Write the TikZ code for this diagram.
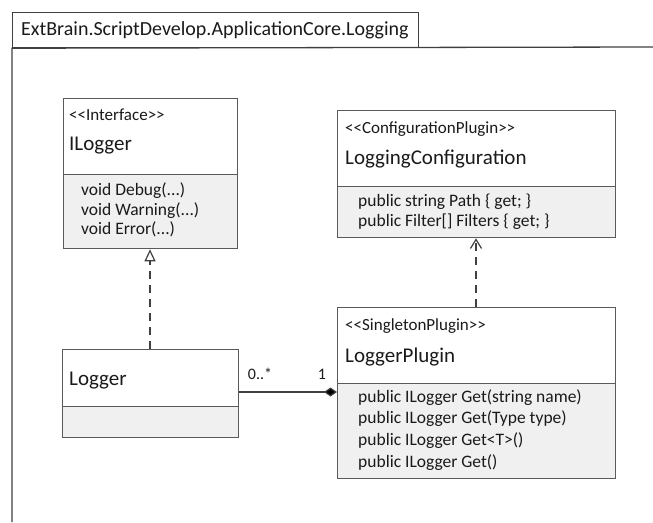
\documentclass[tikz,border=0pt]{standalone}
\usepackage{fontspec}
\setmainfont{Carlito}
\usetikzlibrary{arrows.meta}
\definecolor{boxline}{HTML}{5A5A5A}
\definecolor{pkgline}{HTML}{404040}
\definecolor{compfill}{HTML}{F0F0F0}
\definecolor{txt}{HTML}{1A1A1A}
\newcommand{\lsg}{{<}{<}}
\newcommand{\rsg}{{>}{>}}
\begin{document}
\begin{tikzpicture}[x=1pt,y=-1pt,
  comp/.style={draw=boxline, line width=1.3pt, anchor=north west, inner sep=0pt, minimum width=#1},
  headc/.style={comp=#1, fill=white},
  bodyc/.style={comp=#1, fill=compfill},
  stereo/.style={anchor=base west, inner sep=0pt, font=\fontsize{17}{20}\selectfont, text=txt},
  cname/.style={anchor=base west, inner sep=0pt, font=\fontsize{21}{24}\selectfont, text=txt},
  member/.style={anchor=base west, inner sep=0pt, font=\fontsize{17.5}{20}\selectfont, text=txt},
  mult/.style={anchor=base, inner sep=0pt, font=\fontsize{16}{18}\selectfont, text=txt},
  dashline/.style={draw=pkgline, line width=1.2pt, dash pattern=on 8pt off 6pt},
  conn/.style={draw=pkgline, line width=1.2pt}]
\useasboundingbox (0,0) rectangle (653,522);

% package frame
\node[draw=pkgline, line width=1.2pt, anchor=north west, inner sep=0pt,
      minimum width=406pt, minimum height=35pt] (tab) at (12,12) {};
\coordinate (pkgR) at (653,47);
\coordinate (pkgB) at (12,522);
\draw[pkgline, line width=1.3pt] (pkgR) -- (tab.south west) -- (pkgB);
\node[anchor=base west, inner sep=0pt, font=\fontsize{20}{24}\selectfont, text=txt] (title) at (21,35) {ExtBrain.ScriptDevelop.ApplicationCore.Logging};

% ILogger
\node[headc=174pt, minimum height=76pt] (ilogH) at (63,98) {};
\node[bodyc=174pt, minimum height=74pt] (ilogB) at (63,174) {};
\node[stereo] (ilogS) at (69,120) {\lsg Interface\rsg};
\node[cname] (ilogN) at (69,150) {ILogger};
\node[member] (ilogM1) at (81,195) {void Debug(...)};
\node[member] (ilogM2) at (81,215) {void Warning(...)};
\node[member] (ilogM3) at (81,234) {void Error(...)};

% LoggingConfiguration
\node[headc=278pt, minimum height=76pt] (cfgH) at (337,110) {};
\node[bodyc=278pt, minimum height=51pt] (cfgB) at (337,186) {};
\node[stereo] (cfgS) at (345,133) {\lsg ConfigurationPlugin\rsg};
\node[cname] (cfgN) at (345,164) {LoggingConfiguration};
\node[member] (cfgM1) at (358,206) {public string Path \{ get; \}};
\node[member] (cfgM2) at (358,226) {public Filter[] Filters \{ get; \}};

% LoggerPlugin
\node[headc=278pt, minimum height=76pt] (plgH) at (337,307) {};
\node[bodyc=278pt, minimum height=95pt] (plgB) at (337,383) {};
\node[stereo] (plgS) at (345,330) {\lsg SingletonPlugin\rsg};
\node[cname] (plgN) at (345,362) {LoggerPlugin};
\node[member] (plgM1) at (358,402) {public ILogger Get(string name)};
\node[member] (plgM2) at (358,423) {public ILogger Get(Type type)};
\node[member] (plgM3) at (358,445) {public ILogger Get<T>()};
\node[member] (plgM4) at (358,467) {public ILogger Get()};

% Logger
\node[headc=176pt, minimum height=57pt] (logH) at (62,349) {};
\node[bodyc=176pt, minimum height=31pt] (logB) at (62,406) {};
\node[cname] (logN) at (69,385) {Logger};

% realization Logger -> ILogger
\draw[dashline, -{Triangle[open, length=12pt, width=11pt, line width=1.2pt, fill=white]}]
  (logH.north -| 150,0) -- (ilogB.south -| 150,0);

% dependency LoggerPlugin -> LoggingConfiguration
\draw[dashline, -{Straight Barb[length=9pt, width=11pt, line width=1.2pt]}]
  (plgH.north -| 476,0) -- (cfgB.south -| 476,0);

% association Logger -- LoggerPlugin (composition)
\coordinate (assocL) at (logH.east |- 0,392);
\coordinate (assocR) at (plgH.west |- 0,392);
\draw[conn, -{Diamond[length=13pt, width=9pt, fill=black]}] (assocL) -- (assocR);
\node[mult] (m1) at (260,379) {0..*};
\node[mult] (m2) at (322,379) {1};
\end{tikzpicture}
\end{document}
